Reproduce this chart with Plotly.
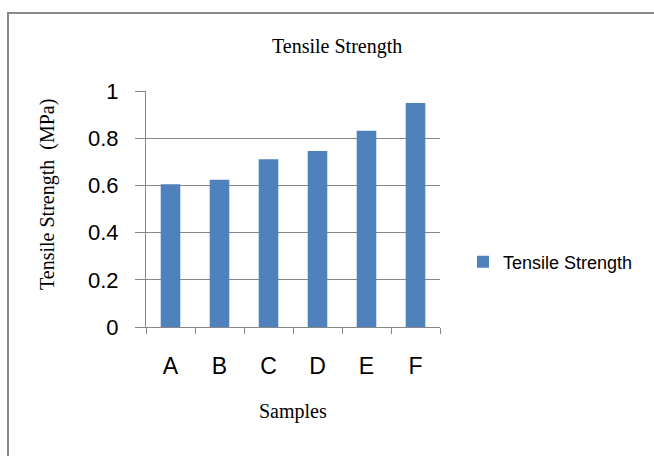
import plotly.graph_objects as go

samples = ["A", "B", "C", "D", "E", "F"]
tensile_strength = [0.605, 0.624, 0.711, 0.746, 0.832, 0.949]
y_ticks = [0, 0.2, 0.4, 0.6, 0.8, 1]
y_tick_labels = ["0", "0.2", "0.4", "0.6", "0.8", "1"]

W, H = 654, 456
L, R, T, B = 146, 440, 91, 327  # plot area in pixels
pw, ph = R - L, B - T

def px(x):
    return (x - L) / pw

def py(y):
    return (B - y) / ph

fig = go.Figure()
fig.add_trace(go.Bar(
    x=samples, y=tensile_strength, name="Tensile Strength",
    marker=dict(color="#4F81BD", line=dict(width=0)),
))

grid = "#878787"
fig.update_layout(
    width=W, height=H,
    margin=dict(l=L, r=W - R, t=T, b=H - B, pad=0),
    paper_bgcolor="white", plot_bgcolor="white",
    bargap=0.6,
    showlegend=True,
    legend=dict(x=px(463), y=py(262), xanchor="left", yanchor="middle",
                font=dict(family="Liberation Sans, Arial", size=18, color="#000"),
                bgcolor="rgba(0,0,0,0)"),
    xaxis=dict(
        showgrid=False, showline=True, linecolor=grid, linewidth=1,
        ticks="outside", ticklen=6, tickcolor=grid, tickson="boundaries",
        tickfont=dict(family="Liberation Sans, Arial", size=23, color="#000"),
        ticklabelstandoff=18,
        zeroline=False,
    ),
    yaxis=dict(
        range=[0, 1], tickvals=y_ticks, ticktext=y_tick_labels,
        showgrid=True, gridcolor=grid, gridwidth=1,
        showline=True, linecolor=grid, linewidth=1,
        ticks="outside", ticklen=10, tickcolor=grid,
        tickfont=dict(family="Liberation Sans, Arial", size=22, color="#000"),
        ticklabelstandoff=12,
        zeroline=False,
    ),
    shapes=[dict(type="rect", xref="paper", yref="paper",
                 x0=px(8), x1=px(670), y0=py(475), y1=py(13),
                 line=dict(color="#888888", width=2), fillcolor="rgba(0,0,0,0)", layer="below")],
    annotations=[
        dict(text="Tensile Strength", xref="paper", yref="paper", x=px(337), y=py(46),
             xanchor="center", yanchor="middle", showarrow=False,
             font=dict(family="Liberation Serif, Times New Roman", size=20, color="#000")),
        dict(text="Tensile Strength  (MPa)", xref="paper", yref="paper", x=px(47), y=py(195),
             xanchor="center", yanchor="middle", showarrow=False, textangle=-90,
             font=dict(family="Liberation Serif, Times New Roman", size=20, color="#000")),
        dict(text="Samples", xref="paper", yref="paper", x=px(293), y=py(411),
             xanchor="center", yanchor="middle", showarrow=False,
             font=dict(family="Liberation Serif, Times New Roman", size=20, color="#000")),
    ],
)

fig.write_html("out.html", config={"displayModeBar": False},
               post_script="document.body.style.margin='0';")
